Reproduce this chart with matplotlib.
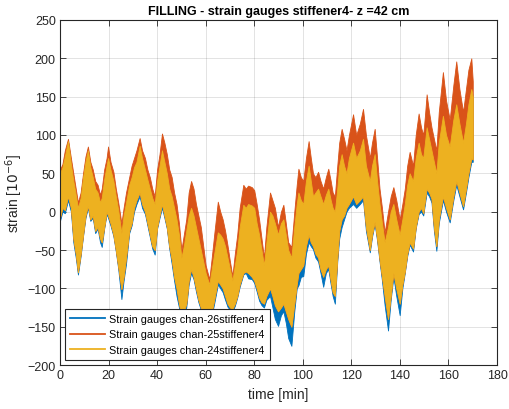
import matplotlib

matplotlib.use("Agg")
import matplotlib.pyplot as plt
from matplotlib.lines import Line2D

plt.rcParams["font.family"] = ["Liberation Sans", "DejaVu Sans"]

# sample times [min], with envelope values (1e-6 strain)
time_min = [
    0, 1, 2, 3.3, 4.5, 5.5, 6.5, 7.4, 8.5, 9.5, 10.5, 11.5, 12.5, 13.5, 14.5,
    15.5, 16.5, 17.2, 18.2, 19.2, 19.8, 20.8, 22, 23, 24, 25.3, 26.2, 27.2,
    28.5, 29.5, 30.5, 31.5, 32.8, 33.8, 35, 36, 37, 38, 39, 40, 41, 42, 43,
    44, 45, 46, 47, 48, 49, 50, 51, 52, 53, 54, 55, 56, 57, 58, 59, 60, 61.5,
    62.5, 63.5, 65, 66, 67, 68, 69, 70, 71, 72, 73, 74, 75.5, 76.5, 77.5, 79,
    80, 81, 82, 83, 84, 85, 86.5, 87.5, 88.5, 89.8, 91, 92, 93, 94, 95.3,
    96.5, 97.5, 98.2, 99.2, 100.2, 101.3, 102.4, 103.3, 104.2, 105.2, 106.3,
    107.3, 108.4, 109.5, 110.5, 111.5, 112.3, 113.2, 114.2, 115, 116, 117,
    118, 119, 120.7, 122, 123.5, 124.8, 126, 127.6, 128.5, 129.6, 130.6,
    131.6, 132.6, 133.7, 135.1, 136.2, 137.3, 138.5, 139.9, 141, 142, 143,
    144, 145.4, 146.5, 147.7, 148.7, 149.6, 150.3, 151, 152, 153, 154, 155,
    156, 157.7, 159, 160.5, 162, 163.2, 164.5, 166, 167.2, 168.2, 169.4, 170,
]
# chan-25 upper envelope
chan25_hi = [
    55, 62, 80, 95, 70, 50, 30, 12, 25, 50, 72, 85, 65, 55, 40,
    35, 22, 30, 55, 70, 85, 65, 52, 30, 12, -15, 5, 25,
    45, 60, 70, 80, 96, 80, 70, 55, 45, 30, 20, 55, 75, 102, 90,
    75, 55, 45, 25, 10, -15, -50, -30, -10, 25, 40, 30, 10, -5, -20, -45, -70, -88,
    -60, -30, 13, 0, -10, -25, -44, -65, -84, -55, -30, 5, 35, 30, 34, 32,
    28, 10, -10, -35, -60, -20, 25, 15, 5, -20, 0, 9, -15, -40, -46,
    0, 35, 56, 45, 40, 70, 92, 70, 50, 45, 52,
    40, 30, 45, 56, 40, 25, 20, 60, 90, 108, 95,
    80, 100, 127, 100, 115, 134, 100, 70, 90, 108, 70,
    30, 5, -27, 0, 20, 32, 15, -10, 10, 30, 60,
    78, 60, 100, 128, 110, 100, 125, 153, 130, 110, 95, 80,
    130, 182, 145, 120, 165, 196, 160, 130, 160, 185, 200, 170,
]
# chan-24 upper / lower envelope
chan24_hi = [
    50, 58, 72, 92, 62, 40, 22, 5, 18, 45, 65, 80, 58, 45, 30,
    25, 12, 18, 42, 60, 70, 55, 40, 20, 2, -28, -5, 12,
    35, 45, 58, 65, 86, 70, 55, 42, 30, 18, 10, 40, 60, 80, 65,
    50, 30, 20, 5, -10, -30, -60, -45, -25, -5, 5, -5, -20, -35, -50, -65, -80, -95,
    -75, -55, -27, -30, -35, -45, -60, -75, -90, -70, -50, -20, 9, 5, 10, 8,
    5, -15, -30, -50, -70, -40, 0, -5, -15, -30, -15, -10, -30, -50, -60,
    -20, 10, 25, 15, 10, 40, 60, 40, 20, 25, 30,
    20, 10, 22, 30, 15, 5, 0, 30, 60, 75, 60,
    50, 70, 90, 70, 80, 95, 60, 40, 60, 75, 40,
    10, -15, -40, -20, 0, 10, -10, -30, -10, 10, 35,
    50, 40, 70, 90, 75, 70, 90, 110, 95, 80, 65, 50,
    90, 125, 100, 85, 120, 140, 115, 90, 115, 140, 160, 150,
]
chan24_lo = [
    -8, 5, 2, 20, 5, -35, -55, -79, -55, -30, -5, 8, -10, -5, -25,
    -20, -35, -40, -20, 0, -5, -15, -30, -50, -72, -101, -85, -60,
    -25, -15, 5, 15, 25, 10, 0, -15, -30, -45, -50, -20, -5, 10, -5,
    -20, -45, -62, -85, -100, -120, -135, -130, -120, -90, -75, -85, -100, -115, -125, -135, -140, -145,
    -130, -115, -90, -95, -100, -110, -120, -125, -127, -120, -110, -95, -80, -78, -80, -85,
    -90, -100, -112, -118, -120, -110, -100, -110, -122, -130, -125, -120, -130, -140, -150,
    -120, -95, -80, -75, -70, -45, -30, -40, -45, -55, -60,
    -75, -85, -75, -70, -90, -105, -110, -60, -25, -10, -5,
    5, 10, 20, 10, 15, 20, -20, -50, -30, -13, -35,
    -62, -85, -110, -140, -110, -80, -100, -120, -95, -78, -55,
    -40, -48, -20, 0, 5, -2, 15, 30, 25, 17, -20, -45,
    -10, 20, 5, -10, 20, 40, 25, 7, 30, 50, 70, 68,
]
# chan-26 lower envelope
chan26_lo = [
    -12, 0, -2, 15, 0, -40, -60, -82, -58, -32, -8, 5, -12, -8, -28,
    -22, -40, -46, -22, -3, -8, -18, -32, -52, -75, -114, -90, -68,
    -28, -18, 0, 10, 20, 5, -3, -18, -33, -48, -56, -22, -8, 5, -8,
    -22, -48, -68, -90, -110, -125, -140, -135, -125, -95, -80, -88, -104, -118, -128, -138, -145, -150,
    -135, -120, -95, -100, -105, -115, -124, -128, -130, -123, -112, -98, -82, -80, -87, -88,
    -93, -104, -116, -122, -125, -115, -110, -125, -140, -149, -135, -130, -145, -165, -175,
    -130, -100, -96, -85, -84, -55, -40, -45, -49, -60, -65,
    -80, -98, -80, -75, -95, -110, -120, -65, -35, -20, -10,
    0, 5, 10, 5, 10, 15, -25, -53, -33, -16, -38,
    -65, -90, -122, -155, -115, -85, -110, -135, -100, -80, -58,
    -43, -52, -22, -3, 0, -5, 10, 25, 20, 12, -25, -51,
    -15, 15, 0, -14, 15, 35, 20, 3, 25, 45, 65, 65,
]

series_names = [
    "Strain gauges chan-26stiffener4",
    "Strain gauges chan-25stiffener4",
    "Strain gauges chan-24stiffener4",
]
colors = ["#0072BD", "#D95319", "#EDB120"]

fig = plt.figure(figsize=(5.1, 4.1), dpi=100)
ax = fig.add_axes([0.1176, 0.1073, 0.857, 0.8415])

# blue, then orange, then yellow on top (same draw order as the source)
ax.fill_between(time_min, chan26_lo, chan24_hi, color=colors[0], lw=0.6, edgecolor=colors[0])
ax.fill_between(time_min, chan24_lo, chan25_hi, color=colors[1], lw=0.6, edgecolor=colors[1])
ax.fill_between(time_min, chan24_lo, chan24_hi, color=colors[2], lw=0.6, edgecolor=colors[2])

ax.set_xlim(0, 180)
ax.set_ylim(-200, 250)
ax.set_xticks(range(0, 181, 20))
ax.set_yticks(range(-200, 251, 50))
ax.grid(True, color="#000000", alpha=0.13, lw=0.6)
ax.set_axisbelow(True)
ax.tick_params(direction="in", top=True, right=True, labelsize=9, length=4,
               width=0.6, colors="#262626", pad=3)
for spine in ax.spines.values():
    spine.set_color("#262626")
    spine.set_linewidth(0.8)

ax.set_title("FILLING - strain gauges stiffener4- z =42 cm", fontsize=9,
             fontweight="bold", pad=4)
ax.set_xlabel("time [min]", fontsize=10, color="#262626", labelpad=4)
ax.set_ylabel("strain [$10^{-6}$]", fontsize=10, color="#262626", labelpad=2)

handles = [Line2D([0], [0], color=c, lw=1.3) for c in colors]
leg = ax.legend(handles, series_names, loc="lower left", fontsize=7.8,
                frameon=True, fancybox=False, framealpha=1, edgecolor="#262626",
                borderpad=0.45, labelspacing=0.5, handlelength=3.2,
                handletextpad=0.4, borderaxespad=0.5)
leg.get_frame().set_linewidth(0.8)

fig.savefig("out.png", dpi=100)
